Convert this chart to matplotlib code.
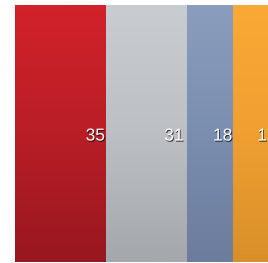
import numpy as np
import matplotlib
matplotlib.use("Agg")
import matplotlib.pyplot as plt
import matplotlib.patheffects as pe
from matplotlib.colors import to_rgb

categories = ["A", "B", "C", "D"]
values = [35, 31, 18, 17]
colors_top = ["#d2222a", "#c9cdd1", "#8a9dbd", "#f9a935"]
colors_mid = ["#b91e26", "#bcc0c4", "#7a8eb0", "#f0a031"]
colors_bot = ["#981720", "#a4a8ac", "#6c7c9c", "#d98f29"]
label_offsets = [-1, -3, -1, -1]  # pixels, label right edge relative to segment end

fig = plt.figure(figsize=(2.68, 2.63), dpi=100)
ax = fig.add_axes([0, 0, 1, 1])
ax.axis("off")

left = 0
for i, v in enumerate(values):
    t, m, b = (np.array(to_rgb(c)) for c in (colors_top[i], colors_mid[i], colors_bot[i]))
    n = 100
    s = np.linspace(0, 1, n)[:, None]
    grad = np.where(s < 0.5, t + (m - t) * (s / 0.5), m + (b - m) * ((s - 0.5) / 0.5))
    img = grad[:, None, :]
    ax.imshow(img, extent=(left, left + v, 0, 1), aspect="auto", origin="upper",
              interpolation="bilinear", zorder=1)
    txt = ax.annotate(str(v), xy=(left + v, 0.49), xytext=(label_offsets[i] * 0.72, 0),
                      textcoords="offset points", ha="right", va="center",
                      fontsize=12.5, color="white", family="Liberation Sans", zorder=3,
                      annotation_clip=False)
    txt.set_path_effects([pe.withSimplePatchShadow(offset=(0.6, -0.8), shadow_rgbFace="black", alpha=0.7)])
    left += v

ax.set_xlim(-15 / 2.6, (268 - 15) / 2.6)
ax.set_ylim(-1 / 257, 1 + 5 / 257)
fig.savefig("out.png", dpi=100)
